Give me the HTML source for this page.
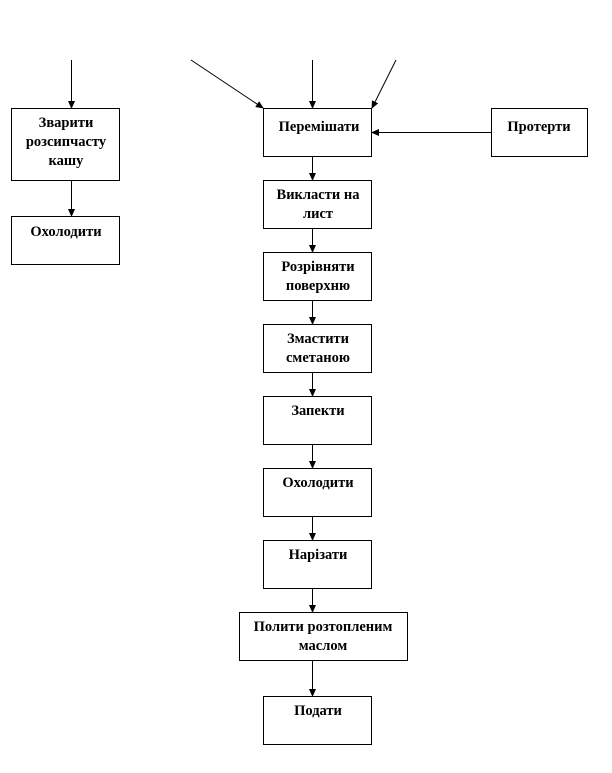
<!DOCTYPE html>
<html><head><meta charset="utf-8"><style>
body{margin:0;background:#fff;}
svg text{font-family:"Liberation Serif","DejaVu Serif",serif;font-weight:bold;font-size:14.5px;fill:#000;text-anchor:middle;}
</style></head><body>
<svg width="612" height="768" viewBox="0 0 612 768" xmlns="http://www.w3.org/2000/svg">
<defs><marker id="a" markerWidth="8" markerHeight="8" refX="7" refY="4" orient="auto" markerUnits="userSpaceOnUse"><path d="M0,0.5 L8,4 L0,7.5 z" fill="#000"/></marker></defs>
<g fill="none" stroke="#000" stroke-width="1">
<rect x="11.5" y="108.5" width="108" height="72"/>
<rect x="11.5" y="216.5" width="108" height="48"/>
<rect x="263.5" y="108.5" width="108" height="48"/>
<rect x="491.5" y="108.5" width="96" height="48"/>
<rect x="263.5" y="180.5" width="108" height="48"/>
<rect x="263.5" y="252.5" width="108" height="48"/>
<rect x="263.5" y="324.5" width="108" height="48"/>
<rect x="263.5" y="396.5" width="108" height="48"/>
<rect x="263.5" y="468.5" width="108" height="48"/>
<rect x="263.5" y="540.5" width="108" height="48"/>
<rect x="239.5" y="612.5" width="168" height="48"/>
<rect x="263.5" y="696.5" width="108" height="48"/>
<g marker-end="url(#a)">
<line x1="71.5" y1="60" x2="71.5" y2="108"/>
<line x1="71.5" y1="180" x2="71.5" y2="216"/>
<line x1="191" y1="60" x2="263" y2="108"/>
<line x1="312.5" y1="60" x2="312.5" y2="108"/>
<line x1="396" y1="60" x2="372" y2="108"/>
<line x1="491" y1="132.5" x2="372" y2="132.5"/>
<line x1="312.5" y1="156" x2="312.5" y2="180"/>
<line x1="312.5" y1="228" x2="312.5" y2="252"/>
<line x1="312.5" y1="300" x2="312.5" y2="324"/>
<line x1="312.5" y1="372" x2="312.5" y2="396"/>
<line x1="312.5" y1="444" x2="312.5" y2="468"/>
<line x1="312.5" y1="516" x2="312.5" y2="540"/>
<line x1="312.5" y1="588" x2="312.5" y2="612"/>
<line x1="312.5" y1="660" x2="312.5" y2="696"/>
</g></g>
<text x="66" y="127">Зварити</text>
<text x="66" y="146">розсипчасту</text>
<text x="66" y="165">кашу</text>
<text x="66" y="236">Охолодити</text>
<text x="319" y="131">Перемішати</text>
<text x="539" y="131">Протерти</text>
<text x="318" y="199">Викласти на</text>
<text x="318" y="218">лист</text>
<text x="318" y="271">Розрівняти</text>
<text x="318" y="290">поверхню</text>
<text x="318" y="343">Змастити</text>
<text x="318" y="362">сметаною</text>
<text x="318" y="415">Запекти</text>
<text x="318" y="487">Охолодити</text>
<text x="318" y="559">Нарізати</text>
<text x="323" y="631">Полити розтопленим</text>
<text x="323" y="650">маслом</text>
<text x="318" y="715">Подати</text>
</svg>
</body></html>
